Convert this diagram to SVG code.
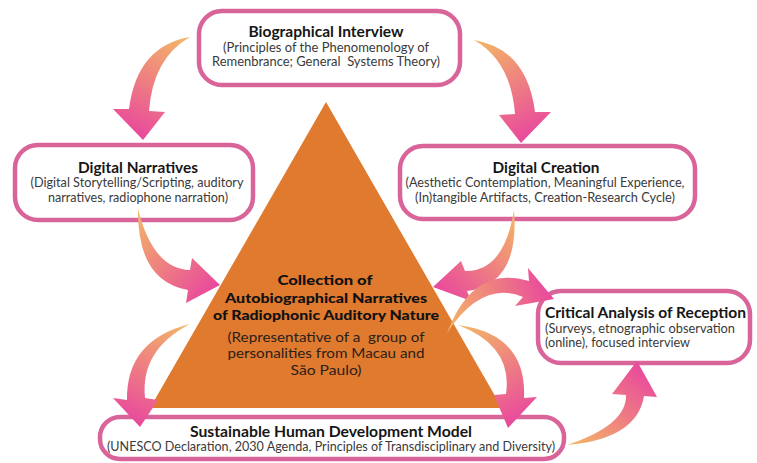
<svg xmlns="http://www.w3.org/2000/svg" width="757" height="463" viewBox="0 0 757 463">
<style>
.box{fill:#fff;stroke:#D9649A;stroke-width:4.5}
.t{font-family:Lato,"Open Sans","Liberation Sans",sans-serif;font-weight:700;font-size:15px;fill:#161616}
.s{font-family:Lato,"Open Sans","Liberation Sans",sans-serif;font-weight:400;font-size:12.5px;fill:#3a3a3a}
.ct{font-family:Lato,"Open Sans","Liberation Sans",sans-serif;font-weight:900;font-size:14px;fill:#111}
.cs{font-family:Lato,"Open Sans","Liberation Sans",sans-serif;font-weight:400;font-size:14px;fill:#2b2019}
.m{text-anchor:middle}
</style>
<defs>
<linearGradient id="g1" gradientUnits="userSpaceOnUse" x1="190" y1="37" x2="143" y2="140"><stop offset="0" stop-color="#F3B865"/><stop offset="1" stop-color="#E9489D"/></linearGradient>
<linearGradient id="g2" gradientUnits="userSpaceOnUse" x1="474" y1="40" x2="521" y2="143"><stop offset="0" stop-color="#F3B865"/><stop offset="1" stop-color="#E9489D"/></linearGradient>
<linearGradient id="g3" gradientUnits="userSpaceOnUse" x1="138" y1="209" x2="220" y2="285"><stop offset="0" stop-color="#F3B865"/><stop offset="1" stop-color="#E9489D"/></linearGradient>
<linearGradient id="g4" gradientUnits="userSpaceOnUse" x1="514" y1="210" x2="433" y2="287"><stop offset="0" stop-color="#F3B865"/><stop offset="1" stop-color="#E9489D"/></linearGradient>
<linearGradient id="g5" gradientUnits="userSpaceOnUse" x1="447" y1="333" x2="554" y2="299"><stop offset="0" stop-color="#F3B865"/><stop offset="1" stop-color="#E9489D"/></linearGradient>
<linearGradient id="g6" gradientUnits="userSpaceOnUse" x1="458" y1="325" x2="508" y2="428"><stop offset="0" stop-color="#F3B865"/><stop offset="1" stop-color="#E9489D"/></linearGradient>
<linearGradient id="g7" gradientUnits="userSpaceOnUse" x1="190" y1="324" x2="140" y2="427"><stop offset="0" stop-color="#F3B865"/><stop offset="1" stop-color="#E9489D"/></linearGradient>
<linearGradient id="g8" gradientUnits="userSpaceOnUse" x1="567" y1="445" x2="637" y2="361"><stop offset="0" stop-color="#F3B865"/><stop offset="1" stop-color="#E9489D"/></linearGradient>
</defs>
<rect width="757" height="463" fill="#fff"/>

<g id="node-collection">
<polygon points="326,102 502,408 150,408" fill="#DF7A2F"/>
<text class="ct m" x="325" y="285" textLength="95" lengthAdjust="spacingAndGlyphs">Collection of</text>
<text class="ct m" x="326" y="303" textLength="202" lengthAdjust="spacingAndGlyphs">Autobiographical Narratives</text>
<text class="ct m" x="326" y="320" textLength="226" lengthAdjust="spacingAndGlyphs">of Radiophonic Auditory Nature</text>
<text class="cs m" x="326" y="342" textLength="197" lengthAdjust="spacingAndGlyphs" xml:space="preserve">(Representative of a  group of</text>
<text class="cs m" x="326" y="358" textLength="197" lengthAdjust="spacingAndGlyphs">personalities from Macau and</text>
<text class="cs m" x="326" y="375" textLength="71" lengthAdjust="spacingAndGlyphs">São Paulo)</text>
</g>

<g id="node-bio">
<rect class="box" x="199" y="11" width="261" height="74" rx="23"/>
<text class="t m" x="326" y="37" textLength="155" lengthAdjust="spacingAndGlyphs">Biographical Interview</text>
<text class="s m" x="326" y="52" textLength="206" lengthAdjust="spacingAndGlyphs">(Principles of the Phenomenology of</text>
<text class="s m" x="326" y="66" textLength="228" lengthAdjust="spacingAndGlyphs" xml:space="preserve">Remenbrance; General  Systems Theory)</text>
</g>

<g id="node-narratives">
<rect class="box" x="15" y="145" width="238" height="75" rx="23"/>
<text class="t m" x="138" y="173" textLength="120" lengthAdjust="spacingAndGlyphs">Digital Narratives</text>
<text class="s m" x="137" y="187" textLength="213" lengthAdjust="spacingAndGlyphs">(Digital Storytelling/Scripting, auditory</text>
<text class="s m" x="138" y="202" textLength="180" lengthAdjust="spacingAndGlyphs">narratives, radiophone narration)</text>
</g>

<g id="node-creation">
<rect class="box" x="400" y="146" width="295" height="73" rx="23"/>
<text class="t m" x="546" y="173" textLength="107" lengthAdjust="spacingAndGlyphs">Digital Creation</text>
<text class="s m" x="545" y="187" textLength="279" lengthAdjust="spacingAndGlyphs">(Aesthetic Contemplation, Meaningful Experience,</text>
<text class="s m" x="545" y="202" textLength="260" lengthAdjust="spacingAndGlyphs">(In)tangible Artifacts, Creation-Research Cycle)</text>
</g>

<g id="node-critical">
<rect class="box" x="538" y="291" width="212" height="72" rx="23"/>
<text class="t" x="545" y="318" textLength="201" lengthAdjust="spacingAndGlyphs">Critical Analysis of Reception</text>
<text class="s" x="545" y="333" textLength="190" lengthAdjust="spacingAndGlyphs">(Surveys, etnographic observation</text>
<text class="s" x="545" y="347" textLength="145" lengthAdjust="spacingAndGlyphs">(online), focused interview</text>
</g>

<g id="node-sustainable">
<rect class="box" x="100" y="417" width="464" height="42" rx="20"/>
<text class="t m" x="331" y="437" textLength="282" lengthAdjust="spacingAndGlyphs">Sustainable Human Development Model</text>
<text class="s m" x="331" y="451" textLength="448" lengthAdjust="spacingAndGlyphs">(UNESCO Declaration, 2030 Agenda, Principles of Transdisciplinary and Diversity)</text>
</g>

<g id="connectors">
<path fill="url(#g1)" d="M190,37 Q137,46 129,109 L113,109 L143,140 L165,112 L149,111 Q153,58 190,37 Z"/>
<path fill="url(#g2)" d="M474,40 Q527,49 535,112 L551,112 L521,143 L499,115 L515,114 Q511,61 474,40 Z"/>
<path fill="url(#g3)" d="M138,209 Q137,281 188,290 L186,303 L220,285 L192,258 L190,270 Q153,269 138,209 Z"/>
<path fill="url(#g4)" d="M514,210 Q520,284 467,291 L471,301 L433,287 L461,261 L465,271 Q504,272 514,210 Z"/>
<path fill="url(#g5)" d="M447,333 Q473,264 529,281 L528,268 L554,299 L515,306 L523,297 Q482,280 447,333 Z"/>
<path fill="url(#g6)" d="M458,325 Q527,334 524,398 L537,397 L508,428 L494,395 L506,394 Q513,346 458,325 Z"/>
<path fill="url(#g7)" d="M190,324 Q126,340 127,400 L113,398 L140,427 L158,400 L145,398 Q140,350 190,324 Z"/>
<path fill="url(#g8)" d="M567,445 Q637,439 644,396 L657,397 L637,361 L612,394 L626,395 Q627,425 567,445 Z"/>
</g>
</svg>
